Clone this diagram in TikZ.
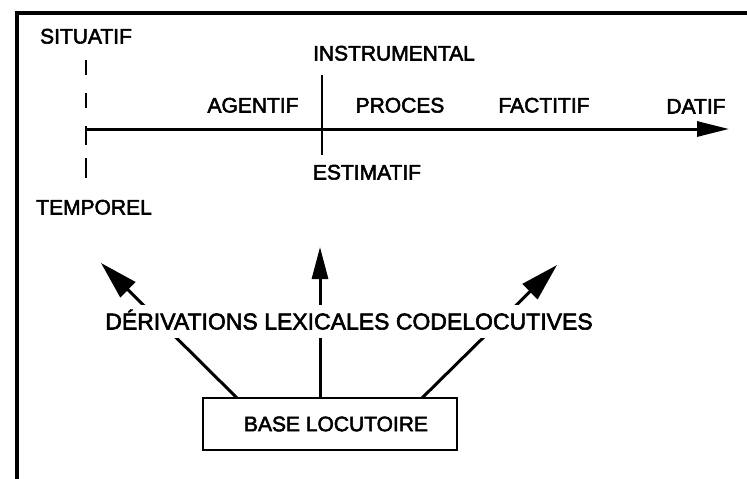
\documentclass[tikz,border=0pt]{standalone}
\usepackage{fontspec}
\setmainfont[FakeBold=2.5]{Liberation Sans}
\usetikzlibrary{arrows.meta}
\begin{document}
\begin{tikzpicture}[x=1pt,y=-1pt,
  lbl/.style={inner sep=0pt, font=\fontsize{21}{24}\selectfont, text height=15pt, text depth=0pt},
  frame/.style={line width=3.5pt},
  axisline/.style={line width=3pt, -{Triangle[length=32pt,width=15pt]}},
  dashline/.style={line width=2.5pt, dash pattern=on 15pt off 18pt on 15pt off 18pt on 19pt off 13pt on 20pt off 20pt},
  divline/.style={line width=2.2pt},
  bigarrow/.style={line width=3pt, -{Triangle[length=38pt,width=21pt]}},
  midarrow/.style={line width=3pt, -{Triangle[length=32pt,width=16pt]}},
  basebox/.style={draw, line width=2pt, inner sep=0pt, minimum width=254pt, minimum height=52pt,
    font=\fontsize{21}{24}\selectfont}]
\useasboundingbox (0,0) rectangle (747,479);
\fill[white] (0,0) rectangle (747,479);
% frame
\draw[frame] (17,479) -- (17,13) -- (747,13);
% labels of the upper scheme
\node[lbl] (sit) at (86,36) {SITUATIF};
\node[lbl] (temp) at (94,207) {TEMPOREL};
\node[lbl] (instr) at (394,53) {INSTRUMENTAL};
\node[lbl] (agent) at (253,105) {AGENTIF};
\node[lbl] (proc) at (400,105) {PROCES};
\node[lbl] (fact) at (544,105) {FACTITIF};
\node[lbl] (dat) at (696,106) {DATIF};
\node[lbl] (estim) at (367,172) {ESTIMATIF};
% axis
\coordinate (ax0) at (86,129);
\coordinate (ax1) at (729,129);
\draw[axisline] (ax0) -- (ax1);
% dashed vertical
\coordinate (dtop) at (86,60);
\coordinate (dbot) at (86,178);
\draw[dashline] (dtop) -- (dbot);
% divider
\coordinate (vtop) at (322,75);
\coordinate (vbot) at (322,155);
\draw[divline] (vtop) -- (vbot);
% base box
\node[basebox] (base) at (330,424) {\hspace*{12pt}BASE LOCUTOIRE};
% arrows
\coordinate (sl) at (237,398);
\coordinate (sm) at (320,398);
\coordinate (sr) at (422,398);
\coordinate (tl) at (101,263);
\coordinate (tm) at (320,247);
\coordinate (tr) at (557,265);
\draw[bigarrow] (sl) -- (tl);
\draw[midarrow] (sm) -- (tm);
\draw[bigarrow] (sr) -- (tr);
% label over the arrows
\node[inner sep=0pt, fill=white, anchor=base,
      font=\fontsize{23}{26}\selectfont,
      text height=24.5pt, text depth=8.5pt] (deriv) at (349,329.5)
  {DÉRIVATIONS LEXICALES CODELOCUTIVES};
\end{tikzpicture}
\end{document}
